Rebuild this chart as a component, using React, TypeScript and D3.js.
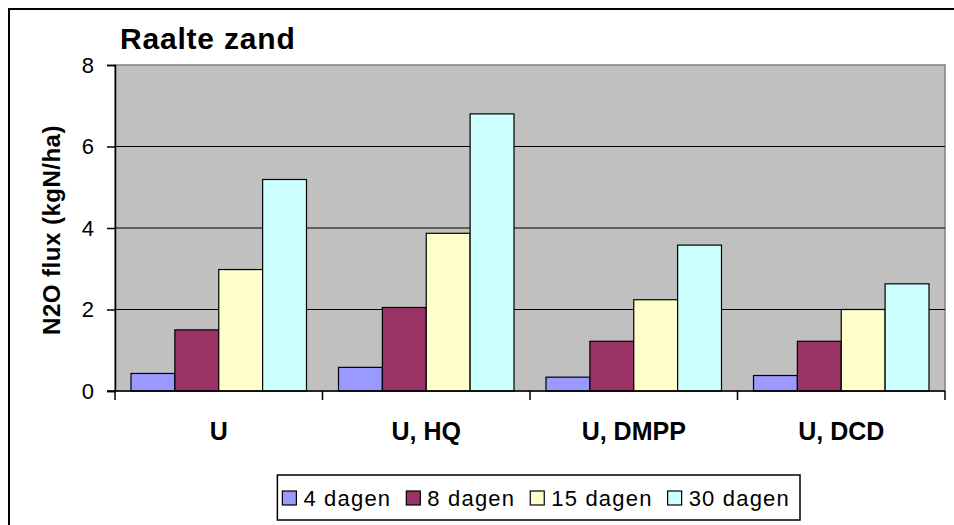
import { useRef, useEffect } from "react";
import * as d3 from "d3";

const categories = ["U", "U, HQ", "U, DMPP", "U, DCD"];
const seriesNames = ["4 dagen", "8 dagen", "15 dagen", "30 dagen"];
const dag4 = [0.43, 0.58, 0.34, 0.38];
const dag8 = [1.5, 2.05, 1.22, 1.22];
const dag15 = [2.98, 3.87, 2.24, 2.0];
const dag30 = [5.19, 6.8, 3.58, 2.63];
const yTicks = [0, 2, 4, 6, 8];
const colors = ["#9999FF", "#993366", "#FFFFCC", "#CCFFFF"];

const App = () => {
  const svgRef = useRef<SVGSVGElement>(null);

  useEffect(() => {
    const svg = d3.select(svgRef.current);
    svg.selectAll("*").remove();
    const font = "'Liberation Sans', Arial, sans-serif";
    const series = [dag4, dag8, dag15, dag30];

    const left = 115, right = 945, top = 65, bottom = 391;

    // outer chart border
    svg.append("rect")
      .attr("x", 9).attr("y", 9).attr("width", 1040).attr("height", 530)
      .attr("fill", "white").attr("stroke", "black").attr("stroke-width", 2);

    const x0 = d3.scaleBand().domain(categories).range([left, right]).paddingInner(0).paddingOuter(0);
    const x1 = d3.scaleBand().domain(seriesNames).range([0, x0.bandwidth()])
      .paddingInner(0).paddingOuter(0.365);
    const y = d3.scaleLinear().domain([0, 8]).range([bottom, top]);

    // plot area
    svg.append("rect")
      .attr("x", left).attr("y", top).attr("width", right - left).attr("height", bottom - top)
      .attr("fill", "#C0C0C0").attr("stroke", "#808080").attr("stroke-width", 1.5);

    // gridlines
    svg.append("g").selectAll("line")
      .data(yTicks.filter((t) => t > 0 && t < 8))
      .enter().append("line")
      .attr("x1", left).attr("x2", right)
      .attr("y1", (d) => y(d)).attr("y2", (d) => y(d))
      .attr("stroke", "black").attr("stroke-width", 1.2);

    // bars
    categories.forEach((c, ci) => {
      svg.append("g").selectAll("rect")
        .data(series.map((s, si) => ({ name: seriesNames[si], v: s[ci], color: colors[si] })))
        .enter().append("rect")
        .attr("x", (d) => (x0(c) as number) + (x1(d.name) as number))
        .attr("y", (d) => y(d.v))
        .attr("width", x1.bandwidth())
        .attr("height", (d) => bottom - y(d.v))
        .attr("fill", (d) => d.color)
        .attr("stroke", "black").attr("stroke-width", 1.2);
    });

    // y axis
    const yAxis = svg.append("g").attr("transform", `translate(${left},0)`)
      .call(d3.axisLeft(y).tickValues(yTicks).tickSize(8).tickPadding(12).tickFormat(d3.format("d")));
    yAxis.select(".domain").attr("stroke", "black").attr("stroke-width", 1.5);
    yAxis.selectAll(".tick line").attr("stroke", "black").attr("stroke-width", 1.5);
    yAxis.selectAll(".tick text").attr("font-family", font).attr("font-size", 22)
      .attr("letter-spacing", 1).attr("fill", "black");

    // x axis
    const xAxis = svg.append("g").attr("transform", `translate(0,${bottom})`);
    xAxis.append("line").attr("x1", left - 8).attr("x2", right).attr("y1", 0).attr("y2", 0)
      .attr("stroke", "black").attr("stroke-width", 1.5);
    xAxis.selectAll(".xt")
      .data([...categories.map((c) => x0(c) as number), right])
      .enter().append("line")
      .attr("x1", (d) => d).attr("x2", (d) => d).attr("y1", 0).attr("y2", 9)
      .attr("stroke", "black").attr("stroke-width", 1.5);
    xAxis.selectAll(".xl")
      .data(categories).enter().append("text")
      .attr("x", (d) => (x0(d) as number) + x0.bandwidth() / 2)
      .attr("y", 49)
      .attr("text-anchor", "middle")
      .attr("font-family", font).attr("font-size", 25).attr("font-weight", "bold")
      .text((d) => d);

    // y axis title
    svg.append("text")
      .attr("transform", `translate(60,${(top + bottom) / 2 + 2}) rotate(-90)`)
      .attr("text-anchor", "middle")
      .attr("font-family", font).attr("font-size", 24).attr("font-weight", "bold")
      .attr("letter-spacing", 0.5)
      .text("N2O flux (kgN/ha)");

    // title
    svg.append("text")
      .attr("x", 120).attr("y", 49)
      .attr("font-family", font).attr("font-size", 30).attr("font-weight", "bold")
      .attr("letter-spacing", 0.8)
      .text("Raalte zand");

    // legend
    const legend = svg.append("g");
    const box = legend.append("rect")
      .attr("y", 475).attr("height", 45)
      .attr("fill", "white").attr("stroke", "black").attr("stroke-width", 1.5);
    const boxRight = 800;
    const items: { w: number }[] = [];
    const texts = seriesNames.map((name) => {
      const t = legend.append("text")
        .attr("y", 506)
        .attr("font-family", font).attr("font-size", 22).attr("letter-spacing", 1.2)
        .text(name);
      items.push({ w: (t.node() as SVGTextElement).getComputedTextLength() });
      return t;
    });
    const total = items.reduce((a, it) => a + 14 + 7 + it.w, 0) + 15 * (items.length - 1);
    let cx = boxRight - 10 - total;
    box.attr("x", cx - 5).attr("width", boxRight - cx + 5);
    seriesNames.forEach((_, i) => {
      legend.append("rect")
        .attr("x", cx).attr("y", 491).attr("width", 14).attr("height", 14)
        .attr("fill", colors[i]).attr("stroke", "black").attr("stroke-width", 1.2);
      texts[i].attr("x", cx + 21);
      cx += 21 + items[i].w + 15;
    });
  }, []);

  return (
    <svg
      ref={svgRef}
      width={954}
      height={525}
      style={{ position: "absolute", left: 0, top: 0, background: "white" }}
    />
  );
};

export default App;
